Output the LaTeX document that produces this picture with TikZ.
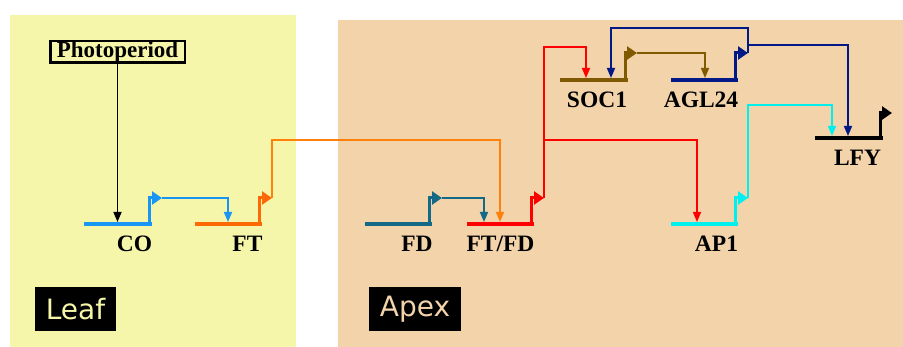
\documentclass[tikz,border=0pt]{standalone}
\usepackage{fontspec}
\setmainfont{Liberation Serif}
\newfontfamily\panelfont{DejaVu Sans}
\usetikzlibrary{arrows.meta}
\definecolor{leafbg}{RGB}{245,246,170}
\definecolor{apexbg}{RGB}{243,211,170}
\definecolor{colCO}{RGB}{25,150,245}
\definecolor{colFT}{RGB}{255,105,5}
\definecolor{colFTc}{RGB}{255,128,10}
\definecolor{colFD}{RGB}{20,105,135}
\definecolor{colRed}{RGB}{255,0,0}
\definecolor{colSOC}{RGB}{128,90,0}
\definecolor{colAGL}{RGB}{0,25,135}
\definecolor{colAP}{RGB}{0,240,240}
\tikzset{
  gene/.style={line width=3.5pt},
  prom/.style={line width=3pt, line join=miter, -{Triangle[length=10pt,width=13pt]}},
  conn/.style={line width=1.6pt, -{Triangle[length=10pt,width=8pt]}},
  lbl/.style={font=\bfseries\fontsize{23.5}{25}\selectfont, inner sep=0pt, anchor=base},
  panel/.style={fill=black, inner sep=0pt, minimum height=44pt, font=\panelfont\fontsize{28}{30}\selectfont}
}
\begin{document}
\begin{tikzpicture}[x=1pt,y=-1pt]
\useasboundingbox (0,0) rectangle (903,347);
\fill[white] (0,0) rectangle (903,347);
% panels
\fill[leafbg] (10,15) rectangle (296,347);
\fill[apexbg] (338,20) rectangle (903,347);
\node[panel, minimum width=81pt, text=leafbg] (leaf) at (75.5,309) {Leaf};
\node[panel, minimum width=92pt, text=apexbg] (apex) at (415,309) {Apex};
% photoperiod
\node[draw, line width=2.5pt, inner sep=0pt, minimum width=134.5pt, minimum height=21.5pt,
      font=\bfseries\fontsize{23}{24}\selectfont] (photo) at (117.5,52) {Photoperiod};
% gene coordinates
\coordinate (CO-l) at (84,224);  \coordinate (CO-r) at (152,224);
\coordinate (FT-l) at (195,224); \coordinate (FT-r) at (262,224);
\coordinate (FD-l) at (365,224); \coordinate (FD-r) at (432,224);
\coordinate (FF-l) at (467,224); \coordinate (FF-r) at (534,224);
\coordinate (SOC-l) at (560,80); \coordinate (SOC-r) at (628,80);
\coordinate (AGL-l) at (671,80); \coordinate (AGL-r) at (738,80);
\coordinate (AP-l) at (671,224); \coordinate (AP-r) at (738,224);
\coordinate (LFY-l) at (815,138); \coordinate (LFY-r) at (883,138);
% promoter tips
\coordinate (CO-p) at (162,198);
\coordinate (FT-p) at (272,198);
\coordinate (FD-p) at (442,198);
\coordinate (FF-p) at (544,198);
\coordinate (SOC-p) at (637,53);
\coordinate (AGL-p) at (748,53);
\coordinate (AP-p) at (748,198);
\coordinate (LFY-p) at (892,113);
% inputs
\coordinate (CO-in) at (117.5,222);
\coordinate (FT-in) at (228,222);
\coordinate (FF-in1) at (484,222);
\coordinate (FF-in2) at (500,222);
\coordinate (SOC-in1) at (586,78);
\coordinate (SOC-in2) at (611,78);
\coordinate (AGL-in) at (705,78);
\coordinate (AP-in) at (697,222);
\coordinate (LFY-in1) at (832,136);
\coordinate (LFY-in2) at (848,136);
% bends
\coordinate (FT-up) at (272,140);
\coordinate (FF-up) at (544,47);
\coordinate (FF-br) at (544,140);
\coordinate (AGL-up) at (748,28);
\coordinate (AGL-br) at (748,45);
\coordinate (AP-up) at (748,105);
% genes
\draw[gene,colCO] (CO-l) -- (CO-r);
\draw[prom,colCO] (149,224) |- (CO-p);
\draw[gene,colFT] (FT-l) -- (FT-r);
\draw[prom,colFT] (259,224) |- (FT-p);
\draw[gene,colFD] (FD-l) -- (FD-r);
\draw[prom,colFD] (429,224) |- (FD-p);
\draw[gene,colRed] (FF-l) -- (FF-r);
\draw[prom,colRed] (531,224) |- (FF-p);
\draw[gene,colSOC] (SOC-l) -- (SOC-r);
\draw[prom,colSOC] (625,80) |- (SOC-p);
\draw[gene,colAGL] (AGL-l) -- (AGL-r);
\draw[prom,colAGL] (735,80) |- (AGL-p);
\draw[gene,colAP] (AP-l) -- (AP-r);
\draw[prom,colAP] (735,224) |- (AP-p);
\draw[gene,black] (LFY-l) -- (LFY-r);
\draw[prom,black] (880,138) |- (LFY-p);
% connectors
\draw[conn,black] (photo.south) -- (CO-in);
\draw[conn,colCO] (CO-p) -| (FT-in);
\draw[conn,colFTc] (FT-p) -- (FT-up) -| (FF-in2);
\draw[conn,colFD] (FD-p) -| (FF-in1);
\draw[conn,colRed] (FF-p) -- (FF-up) -| (SOC-in1);
\draw[conn,colRed] (FF-br) -| (AP-in);
\draw[conn,colSOC] (SOC-p) -| (AGL-in);
\draw[conn,colAGL] (AGL-p) -- (AGL-up) -| (SOC-in2);
\draw[conn,colAGL] (AGL-br) -| (LFY-in2);
\draw[conn,colAP] (AP-p) -- (AP-up) -| (LFY-in1);
% labels
\node[lbl] (COlab) at (134.5,252) {CO};
\node[lbl] (FTlab) at (247.5,252) {FT};
\node[lbl] (FDlab) at (417,252) {FD};
\node[lbl] (FFlab) at (500.5,252) {FT/FD};
\node[lbl] (SOClab) at (597,108) {SOC1};
\node[lbl] (AGLlab) at (701,108) {AGL24};
\node[lbl] (LFYlab) at (857.5,166) {LFY};
\node[lbl] (APlab) at (716.5,252) {AP1};
\end{tikzpicture}
\end{document}
